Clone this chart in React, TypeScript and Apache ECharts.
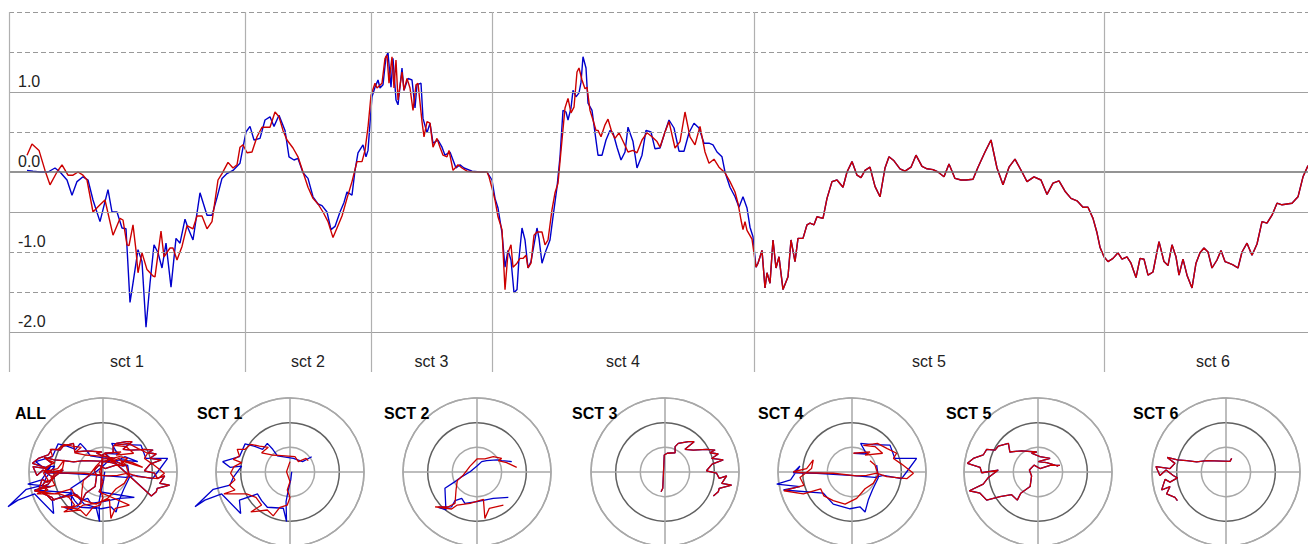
import React, { useEffect, useRef } from "react";
import * as echarts from "echarts";

// ---------- main time-series data: [time (s), value] ----------
const sectionNames = ["sct 1", "sct 2", "sct 3", "sct 4", "sct 5", "sct 6"];
const sectionBounds = [0, 23.6, 36.2, 48.3, 74.5, 109.5, 131.3];

const solidGrid = [1, -0.5, -2];
const zeroGrid = [0];
const dashedGrid = [2, 1.5, 0.5, -1, -1.5];

const red1 = [[1.8,0.21],[2.3,0.35],[3.0,0.27],[3.6,0.02],[4.1,-0.16],[4.8,0.0],[5.3,0.09],[5.9,-0.04],[6.4,-0.04],[6.9,0.0],[7.4,-0.04],[7.8,-0.1],[8.4,-0.5],[9.1,-0.41],[9.6,-0.35],[10.4,-0.79],[11.1,-0.58],[11.4,-0.6],[11.8,-0.91],[12.0,-0.92],[12.4,-0.66],[12.7,-0.98],[12.9,-1.26],[13.3,-1.01],[13.8,-1.22],[14.4,-1.3],[14.6,-1.31],[15.2,-0.74],[15.5,-1.06],[16.1,-0.95],[16.4,-0.95],[16.8,-1.1],[17.3,-0.93],[17.8,-0.67],[18.4,-0.71],[18.8,-0.55],[19.3,-0.55],[19.8,-0.71],[20.3,-0.62],[20.9,-0.1],[21.3,-0.02],[21.9,0.12],[22.4,0.05],[22.8,0.09],[23.1,0.31],[23.4,0.34]];
const red2 = [[23.8,0.24],[24.3,0.25],[24.8,0.44],[25.3,0.56],[26.1,0.56],[26.6,0.75],[27.0,0.69],[27.4,0.52],[27.8,0.4],[28.4,0.3],[28.9,0.19],[29.4,0.0],[29.9,-0.19],[30.4,-0.33],[30.9,-0.4],[31.4,-0.5],[31.9,-0.62],[32.4,-0.82],[32.8,-0.7],[33.3,-0.55],[33.8,-0.33],[34.3,-0.12],[34.8,0.13],[35.3,0.13],[35.6,0.27],[35.9,0.56]];
const red3 = [[36.2,0.96],[36.6,1.11],[36.8,1.05],[37.3,1.11],[37.6,1.42],[37.8,1.46],[38.0,1.11],[38.3,1.44],[38.5,1.05],[38.7,1.4],[38.9,0.9],[39.3,1.25],[39.5,1.02],[39.8,1.17],[40.1,1.05],[40.4,0.77],[40.7,1.09],[40.9,1.11],[41.3,0.63],[41.5,0.44],[41.8,0.63],[42.1,0.61],[42.4,0.31],[42.8,0.42],[43.1,0.31],[43.4,0.21],[43.8,0.19],[44.0,0.27],[44.4,0.02],[44.9,0.09],[45.3,0.05],[45.8,0.01],[46.6,0.0],[47.3,0.0],[47.8,0.0],[48.0,-0.06]];
const red4 = [[48.3,-0.2],[48.6,-0.35],[48.9,-0.56],[49.3,-0.72],[49.6,-1.47],[49.9,-1.01],[50.2,-0.91],[50.4,-1.19],[50.8,-1.14],[51.1,-1.08],[51.4,-1.08],[51.7,-1.04],[51.9,-1.2],[52.2,-1.14],[52.5,-0.79],[52.8,-0.75],[53.3,-0.75],[53.6,-0.91],[53.9,-0.85],[54.3,-0.47],[54.6,-0.26],[54.9,-0.14],[55.3,0.4],[55.6,0.8],[55.9,0.92],[56.2,0.74],[56.5,0.81],[56.8,1.25],[57.0,1.3],[57.3,1.15],[57.6,1.04],[57.8,1.06],[58.1,0.77],[58.4,0.65],[58.7,0.52],[58.9,0.52],[59.2,0.44],[59.6,0.59],[59.9,0.66],[60.3,0.49],[60.6,0.42],[61.0,0.49],[61.5,0.36],[61.9,0.25],[62.4,0.27],[62.8,0.24],[63.3,0.4],[63.8,0.49],[64.3,0.44],[64.8,0.38],[65.1,0.31],[65.6,0.5],[66.0,0.63],[66.6,0.3],[67.1,0.38],[67.6,0.75],[68.1,0.44],[68.6,0.34],[69.1,0.57],[69.6,0.25],[70.0,0.11],[70.5,0.16],[71.0,0.06],[71.6,-0.01],[72.1,-0.12],[72.6,-0.25],[72.9,-0.39],[73.2,-0.6],[73.4,-0.72],[73.6,-0.62],[73.8,-0.73],[74.3,-0.84]];

const blue1 = [[1.8,0.02],[2.4,0.01],[3.1,0.0],[3.9,0.0],[4.6,0.05],[5.1,0.0],[5.8,-0.1],[6.3,-0.29],[6.8,-0.12],[7.4,-0.06],[7.9,-0.1],[8.4,-0.35],[9.1,-0.62],[9.9,-0.22],[10.3,-0.5],[10.8,-0.5],[11.3,-0.7],[11.7,-0.71],[12.1,-1.63],[12.4,-1.39],[12.9,-0.97],[13.3,-1.12],[13.7,-1.94],[14.1,-1.39],[14.5,-0.91],[14.9,-1.01],[15.3,-1.2],[15.7,-0.89],[16.2,-1.44],[16.7,-0.83],[17.1,-0.89],[17.6,-0.59],[17.9,-0.7],[18.4,-0.85],[19.1,-0.26],[19.8,-0.54],[20.3,-0.54],[20.8,-0.32],[21.3,-0.08],[21.8,-0.02],[22.4,0.02],[23.1,0.11]];
const blue2 = [[23.7,0.5],[24.1,0.57],[24.5,0.4],[25.1,0.42],[25.6,0.65],[26.1,0.69],[26.5,0.57],[27.0,0.71],[27.6,0.52],[28.0,0.19],[28.5,0.15],[28.9,0.17],[29.4,-0.01],[29.9,-0.08],[30.4,-0.31],[30.9,-0.4],[31.3,-0.42],[31.8,-0.5],[32.2,-0.72],[32.6,-0.68],[33.1,-0.5],[33.5,-0.38],[33.8,-0.25],[34.3,-0.29],[34.6,0.02],[34.9,0.24],[35.4,0.34],[35.7,0.19],[35.9,0.27]];
const blue3 = [[36.3,0.94],[36.6,1.06],[36.9,1.15],[37.1,1.05],[37.4,1.09],[37.7,1.44],[37.9,1.49],[38.2,1.06],[38.4,1.42],[38.7,0.9],[38.9,0.84],[39.3,1.3],[39.5,1.02],[39.9,1.17],[40.3,1.15],[40.6,0.8],[40.8,1.09],[41.2,1.11],[41.4,0.67],[41.8,0.49],[42.1,0.61],[42.4,0.36],[42.9,0.4],[43.3,0.31],[43.6,0.21],[44.1,0.25],[44.7,0.05],[45.1,0.09],[45.5,0.05],[46.3,0.01],[47.1,0.0],[47.8,0.0],[48.3,-0.1]];
const blue4 = [[48.6,-0.33],[48.9,-0.45],[49.3,-0.76],[49.6,-1.19],[49.9,-0.98],[50.2,-1.1],[50.5,-1.51],[50.8,-1.47],[51.0,-1.08],[51.3,-0.7],[51.6,-0.85],[51.9,-1.2],[52.2,-1.12],[52.8,-0.7],[53.0,-0.83],[53.3,-1.14],[53.7,-0.98],[54.1,-0.85],[54.4,-0.56],[54.8,-0.19],[55.1,0.19],[55.4,0.77],[55.7,0.75],[55.9,0.65],[56.2,0.8],[56.4,1.02],[56.7,0.94],[57.0,0.99],[57.2,1.12],[57.4,1.44],[57.7,1.3],[57.9,0.86],[58.3,0.77],[58.6,0.49],[58.9,0.21],[59.3,0.21],[59.7,0.4],[60.1,0.52],[60.4,0.49],[60.8,0.31],[61.2,0.15],[61.6,0.25],[61.9,0.56],[62.4,0.38],[62.8,0.05],[63.3,0.21],[63.7,0.52],[64.2,0.5],[64.6,0.29],[65.1,0.3],[65.6,0.5],[66.0,0.65],[66.5,0.55],[67.0,0.26],[67.5,0.26],[68.0,0.49],[68.5,0.61],[69.0,0.55],[69.5,0.36],[70.0,0.36],[70.4,0.34],[70.8,0.25],[71.3,0.19],[71.6,0.0],[72.1,-0.19],[72.6,-0.31],[73.0,-0.44],[73.4,-0.31],[73.8,-0.45],[74.1,-0.69],[74.4,-0.81]];

// sections 5 and 6: both traces coincide
const both5 = [[74.7,-1.19],[74.9,-1.14],[75.3,-0.98],[75.6,-1.45],[75.8,-1.26],[76.1,-1.39],[76.4,-0.85],[76.7,-1.2],[77.0,-1.06],[77.4,-1.47],[77.9,-1.31],[78.2,-0.85],[78.6,-1.12],[78.9,-0.83],[79.4,-0.83],[79.8,-0.66],[80.1,-0.64],[80.5,-0.66],[80.8,-0.56],[81.4,-0.58],[81.8,-0.33],[82.3,-0.12],[82.8,-0.1],[83.4,-0.19],[83.8,0.0],[84.3,0.13],[84.8,-0.04],[85.2,-0.07],[85.6,0.02],[86.1,0.06],[86.6,-0.18],[87.1,-0.31],[87.6,0.05],[88.0,0.19],[88.5,0.14],[89.1,0.04],[89.6,0.01],[90.2,0.06],[90.7,0.21],[91.3,0.07],[91.8,0.04],[92.4,0.03],[92.9,0.0],[93.5,-0.06],[94.0,0.1],[94.6,-0.08],[95.2,-0.1],[95.7,-0.1],[96.4,-0.09],[96.9,0.06],[97.6,0.25],[98.2,0.4],[98.8,0.05],[99.4,-0.16],[100.0,0.06],[100.6,0.16],[101.3,0.0],[101.8,-0.12],[102.5,-0.06],[103.2,-0.1],[103.8,-0.28],[104.4,-0.14],[105.0,-0.11],[105.6,-0.24],[106.2,-0.33],[106.8,-0.36],[107.4,-0.44],[107.9,-0.44],[108.4,-0.58],[108.8,-0.76],[109.1,-0.94]];
const both6 = [[109.5,-1.06],[109.9,-1.12],[110.4,-1.08],[110.9,-1.01],[111.3,-1.09],[111.8,-1.06],[112.2,-1.14],[112.7,-1.32],[113.1,-1.08],[113.5,-1.09],[113.9,-1.29],[114.4,-1.25],[115.0,-0.87],[115.5,-1.12],[115.9,-1.17],[116.3,-0.91],[116.7,-1.06],[117.0,-1.29],[117.4,-1.09],[117.8,-1.29],[118.3,-1.45],[118.7,-1.14],[119.1,-1.01],[119.5,-0.95],[119.9,-1.0],[120.3,-1.2],[120.8,-1.1],[121.2,-0.98],[121.6,-1.12],[122.0,-1.14],[122.4,-1.16],[122.9,-1.2],[123.3,-1.0],[123.8,-0.89],[124.3,-1.04],[124.8,-0.9],[125.3,-0.62],[125.8,-0.64],[126.3,-0.54],[126.8,-0.39],[127.3,-0.41],[127.8,-0.4],[128.3,-0.39],[128.9,-0.31],[129.4,-0.06],[129.9,0.08]];

// ---------- trajectory data for the round panels: [x, y] ----------
const panelTitles = ["ALL", "SCT 1", "SCT 2", "SCT 3", "SCT 4", "SCT 5", "SCT 6"];

const trajRed1 = [[0,0.42],[-0.14,0.01],[0,-0.39],[-0.11,-0.73],[0,-1.03],[-0.11,-1.34],[-0.41,-1.43],[-0.68,-1.78],[-0.92,-1.54],[-1.59,-1.62],[-1.15,-1.34],[-1.38,-1.03],[-1.76,-0.89],[-2.68,-0.89],[-2.23,-0.73],[-2.46,-0.53],[-2.23,-0.32],[-2.41,-0.05],[-2.27,0.22],[-1.96,0.38],[-2.3,0.51],[-2.05,0.65],[-2.14,0.92],[-1.82,0.92],[-1.59,1.12],[-1.24,1.05],[-0.88,1.0],[-1.15,0.78],[-0.74,0.69],[-0.34,0.66],[0.2,0.62],[0.34,0.42],[0.65,0.55],[0.74,0.46]];
const trajBlue1 = [[0.07,0.01],[0.03,-0.32],[-0.07,-0.73],[-0.16,-1.2],[-0.14,-2.01],[-0.27,-1.47],[-0.92,-1.43],[-1.15,-1.16],[-1.32,-0.89],[-2.05,-1.14],[-2.0,-1.68],[-2.77,-0.89],[-3.45,-1.14],[-3.85,-1.41],[-3.11,-0.7],[-2.43,-0.53],[-2.3,-0.22],[-1.96,0.24],[-2.43,0.19],[-2.73,0.42],[-2.05,0.62],[-1.82,1.14],[-1.46,1.05],[-1.11,0.92],[-0.92,1.16],[-0.7,0.92],[-0.51,0.65],[0.14,0.55],[0.51,0.42],[0.88,0.62]];
const trajRed2 = [[1.61,0.19],[1.2,0.38],[0.86,0.46],[1.0,0.55],[0.66,0.62],[0.32,0.53],[0,0.53],[-0.28,0.24],[-0.55,-0.12],[-0.8,-0.35],[-0.85,-0.73],[-0.89,-1.27],[-1.16,-1.41],[-1.7,-1.41],[-1.03,-1.5],[-0.8,-1.34],[-0.28,-1.27],[0.26,-1.11],[0.32,-1.88],[0.5,-1.47],[1.07,-1.34]];
const trajBlue2 = [[1.41,0.42],[1.0,0.46],[0.8,0.49],[0.39,0.46],[0.19,0.42],[0,0.24],[-0.28,0.01],[-0.66,-0.22],[-0.89,-0.39],[-1.3,-0.66],[-1.26,-1.54],[-1.57,-1.43],[-1.03,-1.41],[-0.89,-1.16],[-0.62,-1.07],[-0.49,-1.27],[0,-1.2],[0.66,-1.07],[1.27,-1.03]];
const trajBoth3 = [[-0.16,-0.8],[-0.09,-0.66],[-0.03,0.69],[0.09,0.76],[0.41,0.78],[0.41,1.03],[0.54,1.16],[0.95,1.23],[1.18,1.23],[0.81,0.92],[1.15,0.89],[1.69,0.92],[2.03,0.89],[1.82,0.78],[2.16,0.73],[1.89,0.55],[2.36,0.49],[1.91,0.32],[1.68,0.05],[2.09,-0.05],[2.2,-0.26],[2.5,-0.16],[2.3,-0.46],[2.7,-0.53],[2.2,-0.66],[2.16,-0.8],[1.96,-0.97]];
const trajRed4 = [[0.05,0.76],[0.73,0.81],[0.53,0.68],[1.24,0.76],[0.93,1.03],[0.46,1.08],[1.03,1.16],[1.43,0.95],[1.81,0.76],[1.68,0.55],[2.01,0.32],[2.49,-0.05],[2.22,-0.27],[1.41,-0.19],[1.0,-0.05],[0.59,-0.14],[0.19,-0.16],[-0.76,-0.05],[-1.97,-0.03],[-2.38,0.01],[-1.84,0.14],[-1.57,0.49],[-1.64,0.14],[-2.11,-0.22],[-1.95,-0.54],[-2.76,-0.76],[-1.97,-0.89],[-1.27,-0.68],[-1.14,-0.97],[-0.76,-1.16],[-0.28,-1.3],[0.19,-1.07],[0.53,-0.68],[0.86,-0.46],[1.07,-0.12],[0.93,0.28],[0.73,0.46]];
const trajBlue4 = [[0.08,0.76],[0.59,0.73],[0.35,1.16],[0.84,1.11],[1.54,1.09],[1.74,0.55],[2.62,0.55],[2.22,0.01],[2.01,-0.27],[1.27,-0.14],[0.93,-0.22],[-0.08,-0.14],[-1.43,-0.05],[-2.38,-0.03],[-2.11,0.24],[-2.49,-0.32],[-3.05,-0.49],[-2.11,-0.59],[-2.78,-0.73],[-1.16,-0.86],[-0.76,-1.3],[-0.08,-1.49],[0.32,-1.41],[0.53,-1.62],[0.66,-1.14],[0.84,-0.7],[1.07,-0.22],[1.0,0.28]];
const trajBoth5 = [[0.82,0.24],[0.35,0.38],[0.01,0.42],[0.49,0.55],[0.08,0.62],[-0.26,0.76],[-0.05,0.81],[-0.66,0.86],[-1.14,0.81],[-1.2,1.16],[-1.61,1.05],[-1.74,0.89],[-2.08,0.92],[-2.22,0.69],[-2.62,0.55],[-2.86,0.35],[-2.35,0.19],[-2.28,-0.03],[-1.61,0.08],[-2.01,-0.22],[-2.22,-0.49],[-2.78,-0.76],[-2.35,-0.86],[-2.08,-1.14],[-1.54,-1.0],[-1.07,-0.92],[-0.84,-1.14],[-0.7,-0.86],[-0.32,-0.59],[-0.26,-0.16],[-0.35,0.08],[-0.16,0.28],[0.08,0.14],[0.49,0.27],[0.89,0.27]];
const trajBoth6 = [[0.23,0.55],[0.16,0.43],[-0.78,0.46],[-1.19,0.41],[-1.59,0.46],[-1.97,0.49],[-2.38,0.59],[-2.07,0.35],[-2.27,0.14],[-2.84,0.22],[-2.68,-0.14],[-2.43,0.08],[-2.14,-0.14],[-1.97,-0.24],[-2.27,-0.41],[-2.47,-0.3],[-2.61,-0.73],[-2.27,-0.59],[-2.41,-0.89],[-2.07,-1.03],[-1.97,-1.16]];

const BLUE = "#0000cc";
const RED = "#cc0000";
const FONT = "'Liberation Sans', Arial, sans-serif";

const RING_MAX = 3;      // outer ring of each round panel
const DATA_MAX = 4.5;    // data polar extends past the rings
const RING_RADIUS = 74;  // px

const toPolar = (pts: number[][]) =>
  pts.map(([x, y]) => [Math.sqrt(x * x + y * y), ((Math.atan2(y, x) * 180) / Math.PI + 360) % 360]);

function buildOption() {
  const redMain = [...red1, ...red2, ...red3, ...red4, ...both5, ...both6];
  const blueMain = [...blue1, ...blue2, ...blue3, ...blue4, ...both5, ...both6];

  const panelRed = [
    [...trajRed1, ...trajRed2, ...trajBoth3, ...trajRed4, ...trajBoth5, ...trajBoth6],
    trajRed1, trajRed2, trajBoth3, trajRed4, trajBoth5, trajBoth6,
  ];
  const panelBlue = [
    [...trajBlue1, ...trajBlue2, ...trajBoth3, ...trajBlue4, ...trajBoth5, ...trajBoth6],
    trajBlue1, trajBlue2, trajBoth3, trajBlue4, trajBoth5, trajBoth6,
  ];

  const centersX = [103, 290, 477, 665, 852, 1038, 1226];
  const titleLeft = [15, 197, 384, 572, 758, 946, 1133];
  const nP = centersX.length;

  const hLines = [
    ...solidGrid.map((v) => ({ yAxis: v, lineStyle: { color: "#a0a0a0", width: 1.2, type: "solid" } })),
    ...zeroGrid.map((v) => ({ yAxis: v, lineStyle: { color: "#707070", width: 1.5, type: "solid" } })),
    ...dashedGrid.map((v) => ({ yAxis: v, lineStyle: { color: "#999999", width: 1.2, type: [5, 3] } })),
  ];
  const vLines = sectionBounds.slice(0, -1).map((b) => ({
    xAxis: b,
    lineStyle: { color: "#b0b0b0", width: 1.2, type: "solid" },
  }));

  const series: any[] = [
    {
      type: "line",
      xAxisIndex: 0,
      yAxisIndex: 0,
      data: [],
      z: 1,
      silent: true,
      markLine: {
        silent: true,
        symbol: ["none", "none"],
        label: { show: false },
        data: [...hLines, ...vLines],
      },
      markArea: {
        silent: true,
        itemStyle: { color: "rgba(0,0,0,0)" },
        label: {
          show: true,
          position: "insideBottom",
          distance: 3,
          fontSize: 16,
          color: "#222",
          fontFamily: FONT,
        },
        data: sectionNames.map((n, i) => [
          { xAxis: sectionBounds[i], name: n },
          { xAxis: sectionBounds[i + 1] },
        ]),
      },
    },
    {
      type: "line",
      data: blueMain,
      showSymbol: false,
      symbol: "none",
      z: 3,
      lineStyle: { color: BLUE, width: 1.4 },
    },
    {
      type: "line",
      data: redMain,
      showSymbol: false,
      symbol: "none",
      z: 4,
      lineStyle: { color: RED, width: 1.4 },
    },
  ];

  panelTitles.forEach((_, k) => {
    series.push({
      type: "line",
      coordinateSystem: "polar",
      polarIndex: nP + k,
      data: toPolar(panelBlue[k]),
      showSymbol: false,
      symbol: "none",
      clip: false,
      z: 3,
      lineStyle: { color: BLUE, width: 1.3 },
    });
    series.push({
      type: "line",
      coordinateSystem: "polar",
      polarIndex: nP + k,
      data: toPolar(panelRed[k]),
      showSymbol: false,
      symbol: "none",
      clip: false,
      z: 4,
      lineStyle: { color: RED, width: 1.3 },
    });
  });

  const ringPolars = centersX.map((cx) => ({ center: [cx, 472], radius: RING_RADIUS }));
  const dataPolars = centersX.map((cx) => ({ center: [cx, 472], radius: (RING_RADIUS * DATA_MAX) / RING_MAX }));

  const ringAngle = centersX.map((_, k) => ({
    polarIndex: k,
    type: "value",
    min: 0,
    max: 360,
    interval: 90,
    startAngle: 0,
    clockwise: false,
    axisLine: { show: true, lineStyle: { color: "#a8a8a8", width: 1.5 } },
    axisTick: { show: false },
    axisLabel: { show: false },
    splitLine: { show: true, lineStyle: { color: "#a8a8a8", width: 1.5 } },
  }));
  const dataAngle = centersX.map((_, k) => ({
    polarIndex: nP + k,
    type: "value",
    min: 0,
    max: 360,
    startAngle: 0,
    clockwise: false,
    axisLine: { show: false },
    axisTick: { show: false },
    axisLabel: { show: false },
    splitLine: { show: false },
  }));
  const ringRadius = centersX.map((_, k) => ({
    polarIndex: k,
    type: "value",
    min: 0,
    max: RING_MAX,
    interval: 1,
    axisLine: { show: false },
    axisTick: { show: false },
    axisLabel: { show: false },
    splitLine: { show: true, lineStyle: { color: ["#a8a8a8", "#a8a8a8", "#606060", "#a8a8a8"], width: 1.5 } },
  }));
  const dataRadius = centersX.map((_, k) => ({
    polarIndex: nP + k,
    type: "value",
    min: 0,
    max: DATA_MAX,
    axisLine: { show: false },
    axisTick: { show: false },
    axisLabel: { show: false },
    splitLine: { show: false },
  }));

  return {
    animation: false,
    backgroundColor: "#ffffff",
    textStyle: { fontFamily: FONT },
    title: panelTitles.map((t, k) => ({
      text: t,
      left: titleLeft[k],
      top: 405,
      padding: 0,
      textStyle: { fontSize: 16, fontWeight: "bold", color: "#000", fontFamily: FONT },
    })),
    grid: [{ left: 9, top: 12, right: 0, height: 360 }],
    xAxis: [{ type: "value", min: sectionBounds[0], max: sectionBounds[sectionBounds.length - 1], show: false }],
    yAxis: [
      {
        type: "value",
        min: -2.5,
        max: 2,
        interval: 0.5,
        axisLine: { show: false },
        axisTick: { show: false },
        splitLine: { show: false },
        axisLabel: {
          inside: true,
          margin: 9,
          verticalAlign: "bottom",
          padding: [0, 0, 3, 0],
          fontSize: 16,
          color: "#222",
          fontFamily: FONT,
          formatter: (v: number) => (Number.isInteger(v) && v < 2 ? v.toFixed(1) : ""),
        },
      },
    ],
    polar: [...ringPolars, ...dataPolars],
    angleAxis: [...ringAngle, ...dataAngle],
    radiusAxis: [...ringRadius, ...dataRadius],
    series,
  };
}

export default function App() {
  const ref = useRef<HTMLDivElement>(null);
  useEffect(() => {
    if (!ref.current) return;
    const chart = echarts.init(ref.current, null, { renderer: "svg" });
    chart.setOption(buildOption() as any);
    return () => chart.dispose();
  }, []);
  // the plot runs slightly past the right edge of the window, as in the reference
  return (
    <div
      ref={ref}
      style={{ position: "fixed", left: 0, top: 0, width: 1322, height: 544, background: "#fff" }}
    />
  );
}
